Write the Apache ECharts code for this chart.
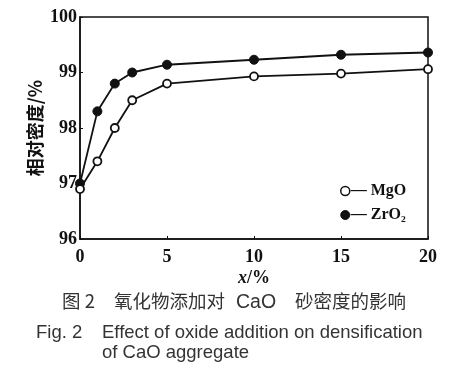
<!DOCTYPE html>
<html><head><meta charset="utf-8">
<script src="https://cdn.jsdelivr.net/npm/echarts@6/dist/echarts.min.js"></script>
<style>html,body{margin:0;padding:0;background:#fff}#c{width:476px;height:369px}</style>
</head><body><div id="c"></div>
<script>
var xValues = [0, 1, 2, 3, 5, 10, 15, 20];
var mgo = [96.9, 97.4, 98.0, 98.5, 98.8, 98.93, 98.98, 99.06];
var zro2 = [97.0, 98.3, 98.8, 99.0, 99.14, 99.23, 99.32, 99.36];
var seriesNames = ['MgO', 'ZrO₂'];
var yName = '相对密度/%';
var captionCnParts = ['图 2', '氧化物添加对', 'CaO', '砂密度的影响'];
var captionEnLabel = 'Fig. 2';
var captionEn1 = 'Effect of oxide addition on densification';
var captionEn2 = 'of CaO aggregate';

function pairs(xs, ys){ return xs.map(function(x,i){return [x, ys[i]];}); }
var serif = 'Liberation Serif';
var capStyle = {fontFamily: 'Liberation Sans', fontWeight: 'normal', fontSize: 18.5, color: '#333'};
var cnStyle = {fontFamily: 'Noto Sans CJK SC', fontWeight: 'normal', fontSize: 18.5, color: '#333'};
var cnLefts = [57, 109, 231, 290];
var titles = captionCnParts.map(function(t, i){
  return {text: t, left: cnLefts[i], top: i === 2 ? 288 : 287, textStyle: i === 2 ? {fontFamily: 'Liberation Sans', fontWeight: 'normal', fontSize: 19.5, color: '#333'} : cnStyle};
});
titles.push({text: captionEnLabel, left: 31, top: 318, textStyle: capStyle});
titles.push({text: captionEn1, left: 97, top: 318, textStyle: capStyle});
titles.push({text: captionEn2, left: 97, top: 338, textStyle: capStyle});
var chart = echarts.init(document.getElementById('c'));
chart.setOption({
  animation: false,
  backgroundColor: '#fff',
  grid: {left: 80, right: 48, top: 17, bottom: 130, show: true, borderColor: '#111', borderWidth: 1.5},
  title: titles,
  legend: {
    orient: 'vertical', left: 335, top: 178, itemGap: 8, itemWidth: 9, itemHeight: 9,
    icon: 'circle',
    data: [
      {name: seriesNames[0], itemStyle: {color: '#fff', borderColor: '#111', borderWidth: 1.5}},
      {name: seriesNames[1], itemStyle: {color: '#111', borderColor: '#111', borderWidth: 1}}
    ],
    formatter: function(n){ return '— ' + n; },
    textStyle: {fontFamily: serif, fontWeight: 'bold', fontSize: 16, color: '#111', padding: [0,0,0,-4]}
  },
  xAxis: {
    type: 'value', min: 0, max: 20, interval: 5,
    axisLine: {lineStyle: {color: '#111', width: 1.5}},
    axisTick: {inside: true, length: 3, lineStyle: {color: '#111'}},
    splitLine: {show: false},
    axisLabel: {fontFamily: serif, fontWeight: 'bold', fontSize: 18, color: '#111', margin: 9},
    name: '{i|x}{n|/%}', nameLocation: 'middle', nameGap: 30, nameMoveOverlap: false,
    nameTextStyle: {rich: {
      i: {fontFamily: serif, fontStyle: 'italic', fontWeight: 'bold', fontSize: 18, color: '#111'},
      n: {fontFamily: serif, fontWeight: 'bold', fontSize: 18, color: '#111'}
    }}
  },
  yAxis: {
    type: 'value', min: 96, max: 100, interval: 1,
    axisLine: {show: true, lineStyle: {color: '#111', width: 1.5}},
    axisTick: {show: true, inside: true, length: 3, lineStyle: {color: '#111'}},
    splitLine: {show: false},
    axisLabel: {fontFamily: serif, fontWeight: 'bold', fontSize: 18, color: '#111', margin: 3},
    name: yName, nameLocation: 'middle', nameGap: 36, nameRotate: 90, nameMoveOverlap: false,
    nameTextStyle: {fontFamily: 'Noto Sans CJK SC', fontWeight: 'bold', fontSize: 18, color: '#111'}
  },
  series: [
    {name: seriesNames[0], type: 'line', data: pairs(xValues, mgo), symbol: 'circle', symbolSize: 8,
     lineStyle: {color: '#111', width: 1.8}, itemStyle: {color: '#fff', borderColor: '#111', borderWidth: 1.8}, z: 3},
    {name: seriesNames[1], type: 'line', data: pairs(xValues, zro2), symbol: 'circle', symbolSize: 9,
     lineStyle: {color: '#111', width: 1.8}, itemStyle: {color: '#111', borderColor: '#111', borderWidth: 1}, z: 2}
  ]
});
</script></body></html>
